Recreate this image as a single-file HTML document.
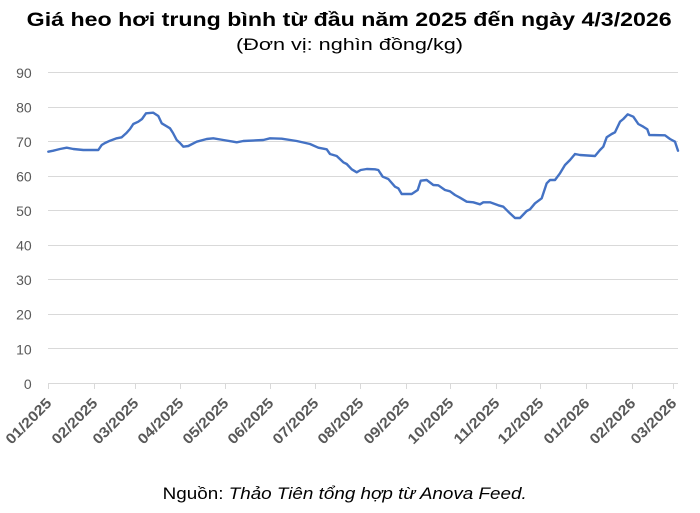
<!DOCTYPE html>
<html>
<head>
<meta charset="utf-8">
<style>
  html, body { margin: 0; padding: 0; background: #ffffff; }
  body { width: 700px; height: 513px; overflow: hidden; }
  svg { display: block; }
</style>
</head>
<body>
<svg width="700" height="513" viewBox="0 0 700 513" xmlns="http://www.w3.org/2000/svg">
  <rect x="0" y="0" width="700" height="513" fill="#ffffff"/>

  <!-- Title -->
  <text x="26.7" y="26" font-family="Liberation Sans, DejaVu Sans, sans-serif" font-weight="bold" font-size="19" fill="#000" textLength="645" lengthAdjust="spacingAndGlyphs">Giá heo hơi trung bình từ đầu năm 2025 đến ngày 4/3/2026</text>
  <text x="236" y="50" font-family="Liberation Sans, DejaVu Sans, sans-serif" font-size="17" fill="#000" textLength="227" lengthAdjust="spacingAndGlyphs">(Đơn vị: nghìn đồng/kg)</text>

  <!-- Gridlines -->
  <g stroke="#d9d9d9" stroke-width="1">
    <line x1="48" y1="72.5" x2="678" y2="72.5"/>
    <line x1="48" y1="107.5" x2="678" y2="107.5"/>
    <line x1="48" y1="141.5" x2="678" y2="141.5"/>
    <line x1="48" y1="176.5" x2="678" y2="176.5"/>
    <line x1="48" y1="210.5" x2="678" y2="210.5"/>
    <line x1="48" y1="245.5" x2="678" y2="245.5"/>
    <line x1="48" y1="279.5" x2="678" y2="279.5"/>
    <line x1="48" y1="314.5" x2="678" y2="314.5"/>
    <line x1="48" y1="348.5" x2="678" y2="348.5"/>
    <line x1="48" y1="383.5" x2="678" y2="383.5"/>
    <!-- ticks -->
    <line x1="48.5" y1="383.5" x2="48.5" y2="389"/>
    <line x1="94.5" y1="383.5" x2="94.5" y2="389"/>
    <line x1="135.5" y1="383.5" x2="135.5" y2="389"/>
    <line x1="180.5" y1="383.5" x2="180.5" y2="389"/>
    <line x1="225.5" y1="383.5" x2="225.5" y2="389"/>
    <line x1="270.5" y1="383.5" x2="270.5" y2="389"/>
    <line x1="315.5" y1="383.5" x2="315.5" y2="389"/>
    <line x1="360.5" y1="383.5" x2="360.5" y2="389"/>
    <line x1="406.5" y1="383.5" x2="406.5" y2="389"/>
    <line x1="450.5" y1="383.5" x2="450.5" y2="389"/>
    <line x1="496.5" y1="383.5" x2="496.5" y2="389"/>
    <line x1="540.5" y1="383.5" x2="540.5" y2="389"/>
    <line x1="586.5" y1="383.5" x2="586.5" y2="389"/>
    <line x1="632.5" y1="383.5" x2="632.5" y2="389"/>
    <line x1="673.5" y1="383.5" x2="673.5" y2="389"/>
  </g>

  <!-- Y labels -->
  <g font-family="Liberation Sans, DejaVu Sans, sans-serif" font-size="14" fill="#595959" text-anchor="end">
    <text x="31.7" y="78">90</text>
    <text x="31.7" y="112.6">80</text>
    <text x="31.7" y="147.1">70</text>
    <text x="31.7" y="181.6">60</text>
    <text x="31.7" y="216.1">50</text>
    <text x="31.7" y="250.7">40</text>
    <text x="31.7" y="285.2">30</text>
    <text x="31.7" y="319.7">20</text>
    <text x="31.7" y="354.3">10</text>
    <text x="31.7" y="388.8">0</text>
  </g>

  <!-- X labels -->
  <g font-family="Liberation Sans, DejaVu Sans, sans-serif" font-size="14.5" font-weight="bold" fill="#595959" text-anchor="end">
    <text transform="translate(52.5,404) rotate(-45)" textLength="58" lengthAdjust="spacingAndGlyphs">01/2025</text>
    <text transform="translate(98.5,404) rotate(-45)" textLength="58" lengthAdjust="spacingAndGlyphs">02/2025</text>
    <text transform="translate(139.5,404) rotate(-45)" textLength="58" lengthAdjust="spacingAndGlyphs">03/2025</text>
    <text transform="translate(184.5,404) rotate(-45)" textLength="58" lengthAdjust="spacingAndGlyphs">04/2025</text>
    <text transform="translate(229.5,404) rotate(-45)" textLength="58" lengthAdjust="spacingAndGlyphs">05/2025</text>
    <text transform="translate(274.5,404) rotate(-45)" textLength="58" lengthAdjust="spacingAndGlyphs">06/2025</text>
    <text transform="translate(319.5,404) rotate(-45)" textLength="58" lengthAdjust="spacingAndGlyphs">07/2025</text>
    <text transform="translate(364.5,404) rotate(-45)" textLength="58" lengthAdjust="spacingAndGlyphs">08/2025</text>
    <text transform="translate(410.5,404) rotate(-45)" textLength="58" lengthAdjust="spacingAndGlyphs">09/2025</text>
    <text transform="translate(454.5,404) rotate(-45)" textLength="58" lengthAdjust="spacingAndGlyphs">10/2025</text>
    <text transform="translate(500.5,404) rotate(-45)" textLength="58" lengthAdjust="spacingAndGlyphs">11/2025</text>
    <text transform="translate(544.5,404) rotate(-45)" textLength="58" lengthAdjust="spacingAndGlyphs">12/2025</text>
    <text transform="translate(590.5,404) rotate(-45)" textLength="58" lengthAdjust="spacingAndGlyphs">01/2026</text>
    <text transform="translate(636.5,404) rotate(-45)" textLength="58" lengthAdjust="spacingAndGlyphs">02/2026</text>
    <text transform="translate(677.5,404) rotate(-45)" textLength="58" lengthAdjust="spacingAndGlyphs">03/2026</text>
  </g>

  <!-- Series -->
  <polyline fill="none" stroke="#4472C4" stroke-width="2.4" stroke-linejoin="round" stroke-linecap="round"
    points="48.3,151.7 53.3,150.7 56,150 60,149 66.7,147.7 73.3,149 83.3,150 98.3,150 101.7,145 105,143 110,140.7 116.7,138.3 121.7,137.3 126.7,132.7 130,129 133.3,124 138.3,121.7 142,119 146,113.3 153.3,112.7 158.3,116 161.7,123.3 170,128.3 173,133 176.7,140 180,143 183.3,146.7 188.3,146 196.7,141.7 206.7,139 213.3,138.3 223.3,140 233.3,141.7 236.7,142.3 243.3,141 263.3,140 270,138.3 281.7,138.7 296.7,141 310,144 318.3,147.7 326.7,149.3 330,154 336.7,156 343.3,162.3 346.7,164 351.7,169.3 356.7,172.3 360.7,170 366.7,169 375,169.3 378.3,170 382.7,176.7 388.3,179 395,186.7 398.3,188.3 401.7,194 411.7,194 417.7,190 420.7,180.7 426.7,180 433.3,185 438.3,185.3 445,190 450,191.3 455,195 460,197.7 466.7,201.7 473.3,202.3 480,204.3 483.3,202.3 490,202.3 498.3,205.3 503.3,206.7 508.3,211.7 515,218 520,218 526.7,211 530,209.3 535,203.3 541.7,198.3 546.7,183.3 550,180 555,180 560,173.3 565,165 570,160 575,154 580,155 595,156 600,150 603.3,146.7 606.7,137.3 611.7,134 615,132.3 620,121.7 623.3,119 627.7,114.3 633.3,116.7 638.3,124 643.3,126.7 647.3,129.3 649.3,135 665,135.3 670,139 675,141.7 678,150.7"/>

  <!-- Footer -->
  <text x="162.7" y="499" font-family="Liberation Sans, DejaVu Sans, sans-serif" font-size="17" fill="#000" textLength="364" lengthAdjust="spacingAndGlyphs">Nguồn: <tspan font-style="italic">Thảo Tiên tổng hợp từ Anova Feed.</tspan></text>
</svg>
</body>
</html>
